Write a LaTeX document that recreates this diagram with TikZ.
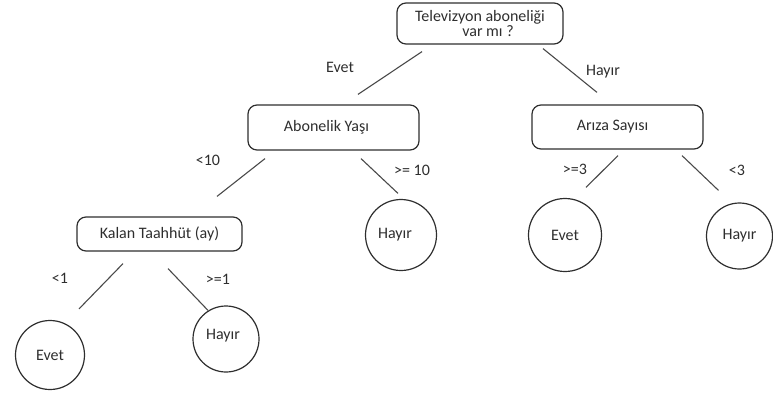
\documentclass[tikz,border=0pt]{standalone}
\usepackage{fontspec}
\setmainfont{Carlito}
\usetikzlibrary{calc,positioning}
\definecolor{inkgrey}{HTML}{2E2E2E}
\definecolor{linegrey}{HTML}{4A4A4A}
\tikzset{edge/.style={linegrey,line width=1.1pt},branch/.style={inkgrey,font=\fontsize{16}{18}\selectfont}}

\begin{document}
\begin{tikzpicture}[x=1pt,y=-1pt,font=\fontsize{16}{18}\selectfont,text=inkgrey]

\tikzset{boxnode/.style={draw=inkgrey,line width=1.2pt,rounded corners=9pt,inner sep=0pt,align=center},
leafnode/.style={draw=inkgrey,line width=1.2pt,shape=circle,inner sep=0pt,minimum size=68pt}}

\useasboundingbox (0,0) rectangle (773,394);

% Question boxes
\node[boxnode,minimum width=166pt,minimum height=41pt] (tv) at (480,23.5) {Televizyon aboneliği\\[-3pt]\hspace*{16pt}var mı ?};
\node[boxnode,minimum width=171pt,minimum height=45pt] (ay) at (333.5,127.5) {\hspace*{-14pt}Abonelik Yaşı};
\node[boxnode,minimum width=171pt,minimum height=44pt] (as) at (617.5,127) {\hspace*{-10pt}Arıza Sayısı};
\node[boxnode,minimum width=165pt,minimum height=34pt] (kt) at (159.5,234) {Kalan Taahhüt (ay)};

% Leaves
\node[leafnode,minimum size=71pt] (h1) at (401,235) {\hspace*{-12pt}Hayır};
\node[leafnode,minimum size=73pt] (e2) at (565,235) {Evet};
\node[leafnode,minimum size=66pt] (h2) at (739.5,236) {Hayır};
\node[leafnode,minimum size=69pt] (e1) at (50,355) {Evet};
\node[leafnode,minimum size=66pt] (h3) at (226,339) {\raisebox{10pt}{\hspace*{-6pt}Hayır}};

% Edges
\draw[edge] ([shift={(-58,7)}]tv.south) -- ([shift={(24.5,-10)}]ay.north);
\draw[edge] ([shift={(63,4)}]tv.south) -- ([shift={(-20.5,-12)}]as.north);
\draw[edge] ([shift={(-68.5,8)}]ay.south) -- ([shift={(57.5,-20)}]kt.north);
\draw[edge] ([shift={(27.5,8)}]ay.south) -- ([shift={(-3,-5.5)}]h1.north);
\draw[edge] ([shift={(0.5,6)}]as.south) -- ([shift={(21,-10.5)}]e2.north);
\draw[edge] ([shift={(64.5,6)}]as.south) -- ([shift={(-21,-12)}]h2.north);
\draw[edge] ([shift={(-36.5,12)}]kt.south) -- ([shift={(29,-11)}]e1.north);
\draw[edge] ([shift={(8.5,17)}]kt.south) -- ([shift={(-18,5)}]h3.north);

% Branch labels
\node[branch] (l1) at (340,67) {Evet};
\node[branch] (l2) at (603,72) {Hayır};
\node[branch] (l3) at (208,160) {<10};
\node[branch] (l4) at (412,170) {>= 10};
\node[branch] (l5) at (575,169) {>=3};
\node[branch] (l6) at (737,170) {<3};
\node[branch] (l7) at (60,278) {<1};
\node[branch] (l8) at (218,279) {>=1};

\end{tikzpicture}
\end{document}
